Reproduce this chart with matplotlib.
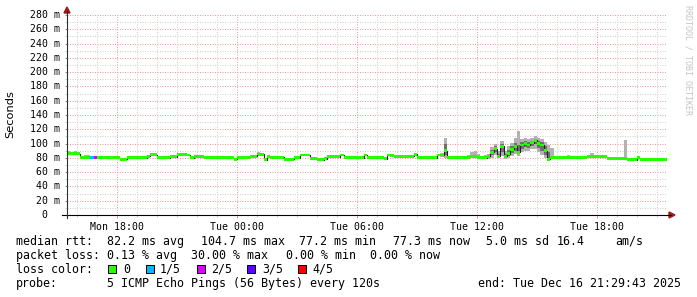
import matplotlib
matplotlib.use("Agg")
import matplotlib.pyplot as plt
import matplotlib.dates as mdates
from matplotlib.lines import Line2D
from matplotlib.patches import Polygon, Rectangle
from matplotlib.ticker import MultipleLocator
import matplotlib.transforms as mtransforms
import numpy as np
from datetime import datetime, timedelta

# ---------------- data (10-minute steps, 30 hours) ----------------
end_time = datetime(2025, 12, 16, 21, 29, 43)
span_hours = 30
step_minutes = 10

median_ms = [
    86, 86, 86, 86, 81, 81,
    81, 81, 81, 81, 81, 81,
    80.5, 80.5, 80.5, 80.5, 77.5, 78,
    80.5, 80.5, 80.5, 80.5, 80.5, 80.5,
    82, 84.5, 84.5, 80.5, 80.5, 80.5,
    80.5, 81.5, 81.5, 84.5, 84.5, 84.5,
    84, 80.5, 81.5, 81.5, 81.5, 81,
    81, 80.5, 80.5, 80.5, 80.5, 80.5,
    80.5, 80.5, 78, 80.5, 80.5, 80.5,
    81, 81.5, 82, 85.5, 85, 77.5,
    81.5, 81, 81, 81, 81, 78,
    78, 78, 80, 80.5, 84, 84,
    84, 79, 79, 77.3, 77.3, 79,
    81.5, 81.5, 81.5, 81.5, 84, 81,
    80.5, 80.5, 80.5, 80.5, 80.5, 84,
    81, 80.5, 80.5, 80.5, 80.5, 79,
    84, 83, 82.5, 82.5, 82.5, 82.5,
    82.5, 82.5, 85, 80, 80, 80,
    80, 80, 80.5, 84, 84, 90,
    80.5, 80.5, 80.5, 80.5, 80.5, 80.5,
    81, 82, 82, 81, 80.5, 80.5,
    82, 88, 93, 82, 96, 82,
    86, 92, 96, 88, 98, 100,
    98, 101, 104.7, 100, 98, 90,
    78, 80, 80.5, 80.5, 80.5, 81,
    81, 81, 81, 81, 81, 81,
    81.5, 81.5, 81.5, 81.5, 81.5, 81.5,
    79.5, 79.5, 79.5, 79.5, 79.5, 79.5,
    77.5, 77.5, 77.5, 80, 77.3, 77.3,
    77.3, 77.3, 77.3, 77.3, 77.3, 77.3,
]

# visible smoke (step index, lowest ping, highest ping) in ms
smoke_idx = [0, 1, 2, 5, 6, 57, 112, 113,
             120, 121, 122, 123, 124, 125, 126, 127, 128, 129,
             130, 131, 132, 133, 134, 135, 136, 137, 138, 139,
             140, 141, 142, 143, 144, 145, 146, 147, 148, 149,
             150, 157, 167]
smoke_lo = [84, 84, 84, 79, 79, 83, 81, 80,
            79, 80, 80, 79, 79, 79, 79, 80, 84, 80,
            82, 79, 80, 82, 85, 82, 88, 90, 90, 92,
            93, 88, 84, 80, 77, 78, 79, 79, 79, 79,
            79, 80, 78]
smoke_hi = [89, 88, 89, 84, 84, 88, 87, 108,
            84, 88, 89, 86, 83, 84, 86, 95, 99, 90,
            104, 90, 96, 101, 108, 118, 106, 108, 106, 108,
            110, 108, 106, 102, 98, 94, 83, 82, 82, 83,
            84, 87, 105]

# darker inner smoke (2nd and 4th pings) where the spread is wide
inner_idx = [113, 127, 128, 129, 130, 131, 132, 133, 134, 135, 136,
             137, 138, 139, 140, 141, 142, 143, 144]
inner_lo = [84, 84, 88, 81, 88, 80, 83, 87, 90, 85, 93,
            95, 94, 97, 99, 94, 90, 84, 78]
inner_hi = [100, 91, 96, 86, 100, 86, 91, 97, 101, 98, 102,
            104, 102, 104, 107, 104, 102, 96, 88]

# packet loss (step index, lost pings out of 5)
loss_idx = [7, 8]
loss_lvl = [1, 2]

loss_colors = ["#26ff00", "#00b8ff", "#dd00ff", "#5e00ff", "#ff0000"]
loss_names = ["0", "1/5", "2/5", "3/5", "4/5"]

stats_rtt = ["82.2 ms avg", "104.7 ms max", "77.2 ms min", "77.3 ms now", "5.0 ms sd", "16.4", "am/s"]
stats_loss = ["0.13 % avg", "30.00 % max", "0.00 % min", "0.00 % now"]
probe_text = "5 ICMP Echo Pings (56 Bytes) every 120s"
end_text = "end: Tue Dec 16 21:29:43 2025"

# ---------------- figure ----------------
W, H = 697, 297
fig = plt.figure(figsize=(W / 100, H / 100), dpi=100)
fig.patch.set_facecolor("white")


def fx(px):
    return px / W


def fy(py):
    return 1 - py / H


ax = fig.add_axes([fx(67), fy(215), fx(667) - fx(67), fy(15) - fy(215)])
ax.set_facecolor("white")

start_time = end_time - timedelta(hours=span_hours)
n = len(median_ms)
step = timedelta(minutes=step_minutes)
edges = mdates.date2num([start_time + k * step for k in range(n + 1)])
step_days = step_minutes / 1440.0
med = np.array(median_ms, dtype=float)
med_ext = np.append(med, med[-1])

ax.set_xlim(edges[0], edges[-1])
ax.set_ylim(0, 280)

GRID_MINOR = "#d0d0d0"
GRID_MAJOR = "#e89a9a"

# grid
ax.xaxis.set_major_locator(mdates.HourLocator(byhour=[0, 6, 12, 18]))
ax.xaxis.set_minor_locator(mdates.HourLocator())
ax.xaxis.set_major_formatter(mdates.DateFormatter("%a %H:%M"))
ax.yaxis.set_major_locator(MultipleLocator(20))
ax.yaxis.set_minor_locator(MultipleLocator(10))
ax.set_axisbelow(True)
ax.grid(which="minor", color=GRID_MINOR, linestyle=(0, (1, 1.5)), linewidth=0.72)
ax.grid(which="major", color=GRID_MAJOR, linestyle=(0, (1, 1.5)), linewidth=0.72)

for s in ax.spines.values():
    s.set_visible(False)

ax.tick_params(axis="x", which="major", length=3 * 0.72, width=0.72, color=GRID_MAJOR,
               direction="out", pad=3.2, labelsize=7.1)
ax.tick_params(axis="x", which="minor", length=2 * 0.72, width=0.72, color=GRID_MINOR,
               direction="out")
ax.tick_params(axis="y", which="major", length=2 * 0.72, width=0.72, color="#909090",
               direction="out", labelleft=False)
ax.tick_params(axis="y", which="minor", length=2 * 0.72, width=0.72, color=GRID_MINOR,
               direction="out")
for lab in ax.get_xticklabels():
    lab.set_fontfamily("DejaVu Sans Mono")

# y tick labels (left aligned like rrdtool)
ytrans = mtransforms.blended_transform_factory(fig.transFigure, ax.transData)
for v in np.arange(0, 281, 20):
    txt = "%3d m" % v if v != 0 else "  0"
    ax.text(fx(30), v, txt, transform=ytrans, ha="left", va="center",
            fontsize=7.1, family="DejaVu Sans Mono", color="black", clip_on=False)

# smoke
sidx = np.array(smoke_idx)
slo = np.array(smoke_lo, dtype=float)
shi = np.array(smoke_hi, dtype=float)
ax.bar(edges[sidx], shi - slo, bottom=slo, width=step_days, align="edge",
       color="#b2b2b2", linewidth=0, zorder=2)
iidx = np.array(inner_idx)
ilo = np.array(inner_lo, dtype=float)
ihi = np.array(inner_hi, dtype=float)
ax.bar(edges[iidx], ihi - ilo, bottom=ilo, width=step_days, align="edge",
       color="#707070", linewidth=0, zorder=2.5)

# median dark line
ax.step(edges, med_ext, where="post", color="#202020", linewidth=0.8, zorder=3)

# median band coloured by loss
BAND = 2.0
ax.fill_between(edges, med_ext - BAND, med_ext + BAND, step="post", color=loss_colors[0],
                linewidth=0, zorder=4)
lidx = np.array(loss_idx)
ax.bar(edges[lidx], 2 * BAND, bottom=med[lidx] - BAND, width=step_days, align="edge",
       color=[loss_colors[l] for l in loss_lvl], linewidth=0, zorder=5)

# axis lines and arrows
fig.add_artist(Line2D([fx(62), fx(671)], [fy(215), fy(215)], color="black", linewidth=0.8))
fig.add_artist(Line2D([fx(67), fx(67)], [fy(218), fy(11)], color="#303030", linewidth=0.8))
fig.add_artist(Polygon([[fx(669), fy(212)], [fx(669), fy(218)], [fx(675), fy(215)]],
                       closed=True, color="#a01818", transform=fig.transFigure))
fig.add_artist(Polygon([[fx(64), fy(13)], [fx(70), fy(13)], [fx(67), fy(7)]],
                       closed=True, color="#a01818", transform=fig.transFigure))

# axis title and watermark
fig.text(fx(10), fy(114), "Seconds", rotation=90, ha="center", va="center",
         fontsize=8.2, family="DejaVu Sans", color="black")
fig.text(fx(688), fy(5), "RRDTOOL / TOBI OETIKER", rotation=270, ha="center", va="top",
         fontsize=6, family="DejaVu Sans Mono", color="#c4c4c4")

# legend
mono = dict(family="DejaVu Sans Mono", fontsize=8.4, color="black", va="baseline", ha="left")
fig.text(fx(16), fy(245), "median rtt:", **mono)
for x, t in zip([107.3, 201, 299, 393, 486, 556.7, 615], stats_rtt):
    fig.text(fx(x), fy(245), t, **mono)
fig.text(fx(16), fy(259), "packet loss:", **mono)
for x, t in zip([107.3, 191, 286, 370], stats_loss):
    fig.text(fx(x), fy(259), t, **mono)
fig.text(fx(16), fy(273), "loss color:", **mono)
for bx, tx, c, name in zip([108, 146, 197, 247, 298], [123, 160, 211, 262, 312],
                           loss_colors, loss_names):
    fig.add_artist(Rectangle((fx(bx), fy(273)), 8 / W, 8 / H, facecolor=c,
                             edgecolor="black", linewidth=0.72, transform=fig.transFigure))
    fig.text(fx(tx), fy(273), name, **mono)
fig.text(fx(16), fy(287), "probe:", **mono)
fig.text(fx(107.3), fy(287), probe_text, **mono)
fig.text(fx(478.3), fy(287), end_text, **mono)

fig.savefig("out.png", dpi=100, facecolor="white")
